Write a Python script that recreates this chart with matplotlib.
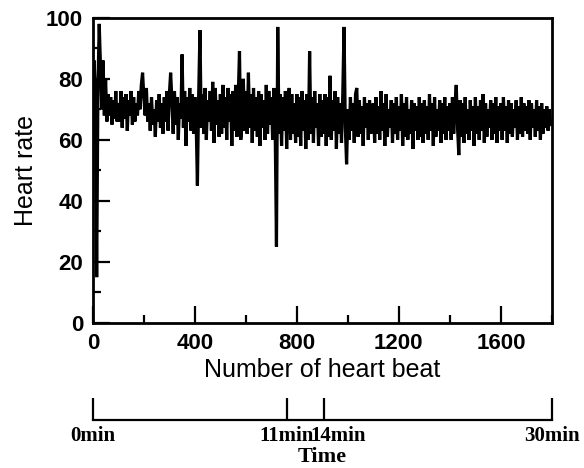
import numpy as np
import matplotlib
matplotlib.use("Agg")
import matplotlib.pyplot as plt
import matplotlib.transforms as mtransforms
from matplotlib.ticker import MultipleLocator

# beat-to-beat heart rate, one value every 5 beats (rows = 100 beats)
heart_rate = [
    72, 86, 74, 15, 78, 98, 84, 70, 86, 68, 80, 66, 75, 68, 74, 65, 73, 67, 76, 66,
    72, 66, 76, 64, 74, 67, 75, 63, 73, 68, 76, 65, 74, 66, 72, 68, 76, 70, 78, 82,
    74, 68, 77, 66, 72, 63, 74, 65, 70, 61, 73, 66, 75, 64, 72, 62, 74, 66, 76, 63,
    75, 82, 73, 62, 76, 65, 74, 60, 72, 67, 88, 64, 76, 58, 74, 66, 77, 63, 75, 62,
    74, 66, 45, 75, 96, 64, 75, 62, 77, 60, 73, 66, 76, 63, 79, 59, 77, 65, 73, 61,
    75, 62, 78, 64, 74, 60, 77, 66, 75, 58, 76, 63, 78, 61, 74, 89, 60, 65, 80, 63,
    76, 62, 82, 64, 75, 59, 77, 63, 74, 61, 76, 58, 75, 64, 73, 60, 78, 62, 76, 65,
    74, 60, 77, 63, 25, 97, 62, 75, 58, 74, 63, 76, 57, 73, 77, 60, 75, 62, 72, 59,
    75, 61, 74, 58, 76, 63, 73, 57, 75, 60, 89, 62, 74, 59, 76, 64, 72, 58, 75, 61,
    73, 62, 75, 58, 74, 61, 81, 60, 73, 63, 76, 57, 74, 62, 72, 59, 75, 97, 64, 52,
    70, 60, 74, 63, 72, 59, 75, 77, 61, 73, 62, 71, 58, 74, 64, 72, 60, 73, 62, 70,
    72, 59, 74, 62, 71, 60, 76, 63, 72, 58, 75, 61, 70, 64, 73, 59, 72, 62, 74, 60,
    71, 63, 75, 58, 72, 61, 74, 60, 70, 62, 73, 57, 72, 63, 71, 60, 74, 61, 72, 59,
    73, 62, 71, 60, 75, 63, 72, 58, 74, 61, 70, 63, 73, 59, 72, 62, 74, 60, 71, 63,
    72, 60, 74, 62, 71, 78, 64, 55, 73, 61, 72, 59, 74, 62, 70, 60, 73, 63, 71, 58,
    74, 62, 71, 60, 73, 63, 75, 59, 72, 61, 70, 64, 73, 60, 72, 62, 74, 59, 71, 63,
    72, 60, 74, 63, 71, 59, 73, 62, 72, 61, 70, 64, 73, 60, 71, 62, 74, 61, 72, 63,
    71, 62, 73, 60, 72, 64, 70, 61, 73, 63, 71, 60, 72, 62, 70, 64, 71, 63, 70, 65,
]
beat_step = 5

# time marks (minutes) and the beat number they fall on
time_labels = ["0min", "11min", "14min", "30min"]
time_beats = [0, 760, 908, 1800]

sans = "Liberation Sans"
serif = "Liberation Serif"

beats = np.arange(len(heart_rate)) * beat_step

fig = plt.figure(figsize=(5.84, 4.68), dpi=100)
ax = fig.add_axes([0.159, 0.310, 0.786, 0.652])
ax.plot(beats, heart_rate, color="black", lw=2.3, solid_joinstyle="miter")

ax.set_xlim(0, 1800)
ax.set_ylim(0, 100)
ax.xaxis.set_major_locator(MultipleLocator(400))
ax.xaxis.set_minor_locator(MultipleLocator(200))
ax.yaxis.set_major_locator(MultipleLocator(20))
ax.yaxis.set_minor_locator(MultipleLocator(10))
ax.tick_params(which="both", direction="in", width=1.6, top=False, right=False)
ax.tick_params(which="major", length=12, pad=7)
ax.tick_params(which="minor", length=6)
for s in ax.spines.values():
    s.set_linewidth(2.0)
for lab in ax.get_xticklabels() + ax.get_yticklabels():
    lab.set_fontfamily(sans)
    lab.set_fontweight("bold")
    lab.set_fontsize(16)
ax.set_xlabel("Number of heart beat", fontfamily=sans, fontsize=18, labelpad=3)
ax.set_ylabel("Heart rate", fontfamily=sans, fontsize=18, labelpad=6)

# separate time axis underneath
tax = fig.add_axes([0.159, 0.1026, 0.786, 0.05])
tax.set_xlim(0, 1800)
tax.set_ylim(0, 1)
tax.patch.set_visible(False)
for side in ["top", "left", "right"]:
    tax.spines[side].set_visible(False)
tax.spines["bottom"].set_linewidth(1.6)
tax.set_yticks([])
tax.set_xticks(time_beats)
tax.set_xticklabels(time_labels)
tax.tick_params(axis="x", direction="in", length=16, width=1.6, pad=4)
for lab in tax.get_xticklabels():
    lab.set_fontfamily(serif)
    lab.set_fontweight("bold")
    lab.set_fontsize(15)
# push the 14min label right so it sits against 11min
lab14 = tax.get_xticklabels()[2]
lab14.set_transform(lab14.get_transform() + mtransforms.ScaledTranslation(14 / 100, 0, fig.dpi_scale_trans))
tax.set_xlabel("Time", fontfamily=serif, fontweight="bold", fontsize=16, labelpad=1)

fig.savefig("out.png", dpi=100)
